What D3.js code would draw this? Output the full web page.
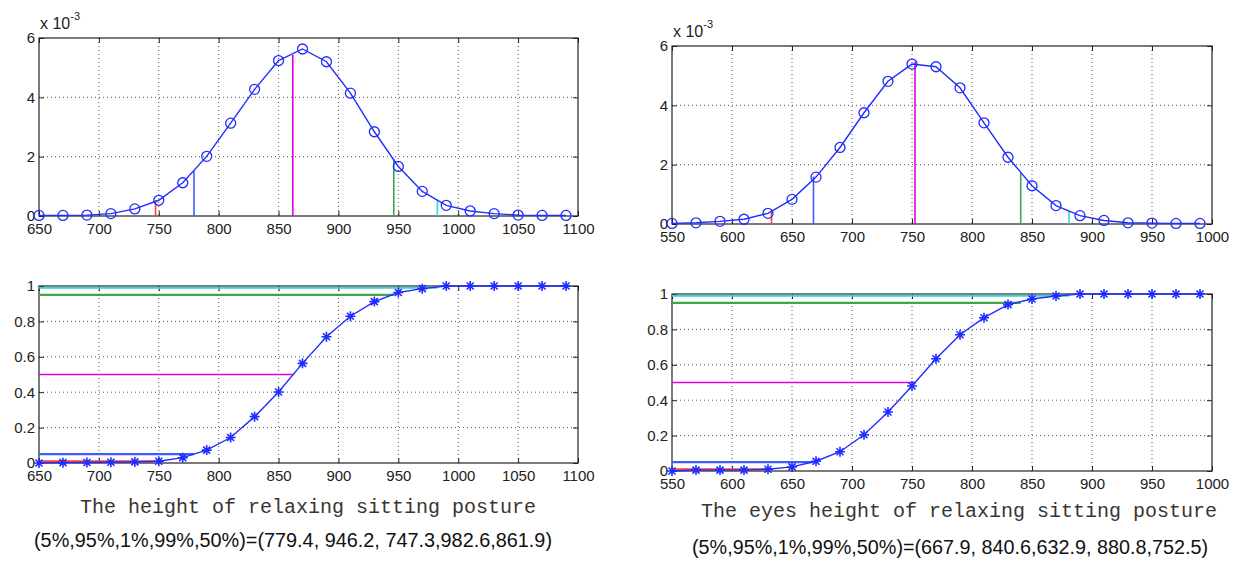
<!DOCTYPE html>
<html>
<head>
<meta charset="utf-8">
<script src="https://cdn.jsdelivr.net/npm/d3@7"></script>
<style>
  body { margin: 0; background: #fff; }
</style>
</head>
<body>
<svg id="chart" width="1247" height="563"></svg>
<script>
// ---- data ----
// left: height of relaxing sitting posture
var leftX = [650, 670, 690, 710, 730, 750, 770, 790, 810, 830, 850, 870, 890, 910, 930, 950, 970, 990, 1010, 1030, 1050, 1070, 1090];
var leftPdf = [0.02, 0.02, 0.03, 0.08, 0.24, 0.53, 1.12, 2.01, 3.13, 4.27, 5.24, 5.63, 5.20, 4.14, 2.84, 1.67, 0.83, 0.36, 0.17, 0.08, 0.03, 0.02, 0.02];
var leftCdf = [0, 0.002, 0.003, 0.004, 0.006, 0.01, 0.03, 0.073, 0.144, 0.262, 0.401, 0.563, 0.713, 0.829, 0.912, 0.963, 0.985, 1, 1, 1, 1, 1, 1];
var leftQuant = [779.4, 946.2, 747.3, 982.6, 861.9];
var leftQuantPdf = [1.52, 1.91, 0.53, 0.53, 5.43];
var leftXTicks = [650, 700, 750, 800, 850, 900, 950, 1000, 1050, 1100];

// right: eyes height of relaxing sitting posture
var rightX = [550, 570, 590, 610, 630, 650, 670, 690, 710, 730, 750, 770, 790, 810, 830, 850, 870, 890, 910, 930, 950, 970, 990];
var rightPdf = [0.02, 0.04, 0.09, 0.16, 0.36, 0.83, 1.58, 2.58, 3.75, 4.81, 5.39, 5.30, 4.59, 3.41, 2.25, 1.29, 0.62, 0.28, 0.12, 0.04, 0.03, 0.02, 0.02];
var rightCdf = [0, 0.005, 0.005, 0.005, 0.01, 0.023, 0.055, 0.109, 0.205, 0.333, 0.48, 0.634, 0.77, 0.866, 0.94, 0.972, 0.989, 1, 1, 1, 1, 1, 1];
var rightQuant = [667.9, 840.6, 632.9, 880.8, 752.5];
var rightQuantPdf = [1.6, 1.73, 0.45, 0.45, 5.47];
var rightXTicks = [550, 600, 650, 700, 750, 800, 850, 900, 950, 1000];

// shared
var quantLevels = [0.05, 0.95, 0.01, 0.99, 0.5];
var quantColors = ["#3d5cff", "#3fa64a", "#ff3b3b", "#3cd0d6", "#e000e0"];
var pdfTicks = [0, 2, 4, 6];
var cdfTicks = [0, 0.2, 0.4, 0.6, 0.8, 1];
var leftTitle = "The height of relaxing sitting posture";
var leftNote = "(5%,95%,1%,99%,50%)=(779.4, 946.2, 747.3,982.6,861.9)";
var rightTitle = "The eyes height of relaxing sitting posture";
var rightNote = "(5%,95%,1%,99%,50%)=(667.9, 840.6,632.9, 880.8,752.5)";

var sans = "Liberation Sans, Arial, sans-serif";
var mono = "Liberation Mono, DejaVu Sans Mono, monospace";

var svg = d3.select("#chart");
var blue = "#1f2dff";

function drawFrame(box, xDomain, yDomain, xTicks, yTicks) {
    var g = svg.append("g");
    var x = d3.scaleLinear().domain(xDomain).range([box.left, box.right]);
    var y = d3.scaleLinear().domain(yDomain).range([box.bottom, box.top]);

    // dotted grid
    g.append("g").selectAll("line").data(xTicks.slice(1, -1)).join("line")
        .attr("x1", d => x(d)).attr("x2", d => x(d))
        .attr("y1", box.top).attr("y2", box.bottom)
        .attr("stroke", "#555").attr("stroke-width", 1).attr("stroke-dasharray", "1,3");
    g.append("g").selectAll("line").data(yTicks.slice(1, -1)).join("line")
        .attr("x1", box.left).attr("x2", box.right)
        .attr("y1", d => y(d)).attr("y2", d => y(d))
        .attr("stroke", "#555").attr("stroke-width", 1).attr("stroke-dasharray", "1,3");

    var xAxis = d3.axisBottom(x).tickValues(xTicks).tickSize(-5).tickSizeOuter(0).tickPadding(7).tickFormat(d => d);
    var yAxis = d3.axisLeft(y).tickValues(yTicks).tickSize(-5).tickSizeOuter(0).tickPadding(4).tickFormat(d => d);

    var gx = g.append("g").attr("transform", "translate(0," + box.bottom + ")").call(xAxis);
    var gy = g.append("g").attr("transform", "translate(" + box.left + ",0)").call(yAxis);
    g.append("g").attr("transform", "translate(0," + box.top + ")")
        .call(d3.axisTop(x).tickValues(xTicks).tickSize(-5).tickSizeOuter(0).tickFormat(""));
    g.append("g").attr("transform", "translate(" + box.right + ",0)")
        .call(d3.axisRight(y).tickValues(yTicks).tickSize(-5).tickSizeOuter(0).tickFormat(""));

    g.selectAll(".domain").remove();
    g.selectAll(".tick line").attr("stroke", "#222");
    [gx, gy].forEach(a => a.selectAll("text")
        .attr("font-size", 15).attr("fill", "#222")
        .attr("font-family", sans));

    g.append("rect")
        .attr("x", box.left).attr("y", box.top)
        .attr("width", box.right - box.left).attr("height", box.bottom - box.top)
        .attr("fill", "none").attr("stroke", "#222").attr("stroke-width", 1.2);

    return { g: g, x: x, y: y };
}

function drawPdf(box, xs, ys, quant, quantY, xTicks) {
    var f = drawFrame(box, [xTicks[0], xTicks[xTicks.length - 1]], [0, 6], xTicks, pdfTicks);
    var pts = xs.map((d, i) => [d, ys[i]]);

    f.g.append("g").selectAll("line").data(quant).join("line")
        .attr("x1", d => f.x(d)).attr("x2", d => f.x(d))
        .attr("y1", f.y(0)).attr("y2", (d, i) => f.y(quantY[i]))
        .attr("stroke", (d, i) => quantColors[i]).attr("stroke-width", 1.6);

    f.g.append("path").datum(pts)
        .attr("d", d3.line().x(d => f.x(d[0])).y(d => f.y(d[1])))
        .attr("fill", "none").attr("stroke", blue).attr("stroke-width", 1.4);

    f.g.append("g").selectAll("circle").data(pts).join("circle")
        .attr("cx", d => f.x(d[0])).attr("cy", d => f.y(d[1])).attr("r", 5)
        .attr("fill", "none").attr("stroke", blue).attr("stroke-width", 1.3);

    // exponent label
    var t = f.g.append("text").attr("x", box.left + 1).attr("y", box.top - 9)
        .attr("font-family", sans).attr("font-size", 16).attr("fill", "#222");
    t.append("tspan").text("x 10");
    t.append("tspan").attr("dy", -9).attr("font-size", 11).text("-3");
}

function drawCdf(box, xs, ys, quant, xTicks) {
    var f = drawFrame(box, [xTicks[0], xTicks[xTicks.length - 1]], [0, 1], xTicks, cdfTicks);
    var pts = xs.map((d, i) => [d, ys[i]]);

    f.g.append("g").selectAll("line").data(quant).join("line")
        .attr("x1", f.x(xTicks[0])).attr("x2", d => f.x(d))
        .attr("y1", (d, i) => f.y(quantLevels[i])).attr("y2", (d, i) => f.y(quantLevels[i]))
        .attr("stroke", (d, i) => quantColors[i])
        .attr("stroke-width", (d, i) => quantLevels[i] === 0.5 ? 1.3 : 2.2);

    f.g.append("path").datum(pts)
        .attr("d", d3.line().x(d => f.x(d[0])).y(d => f.y(d[1])))
        .attr("fill", "none").attr("stroke", blue).attr("stroke-width", 1.4);

    var s = 5;
    f.g.append("g").selectAll("path").data(pts).join("path")
        .attr("transform", d => "translate(" + f.x(d[0]) + "," + f.y(d[1]) + ")")
        .attr("d", "M" + (-s) + ",0H" + s + "M0," + (-s) + "V" + s +
                   "M" + (-s * 0.7) + "," + (-s * 0.7) + "L" + (s * 0.7) + "," + (s * 0.7) +
                   "M" + (-s * 0.7) + "," + (s * 0.7) + "L" + (s * 0.7) + "," + (-s * 0.7))
        .attr("fill", "none").attr("stroke", blue).attr("stroke-width", 1.6);
}

drawPdf({ left: 39, right: 578, top: 38, bottom: 216 }, leftX, leftPdf, leftQuant, leftQuantPdf, leftXTicks);
drawCdf({ left: 39, right: 578, top: 286, bottom: 463 }, leftX, leftCdf, leftQuant, leftXTicks);
drawPdf({ left: 672, right: 1212, top: 46, bottom: 224 }, rightX, rightPdf, rightQuant, rightQuantPdf, rightXTicks);
drawCdf({ left: 672, right: 1212, top: 294, bottom: 471 }, rightX, rightCdf, rightQuant, rightXTicks);

// captions
svg.append("text").attr("x", 308).attr("y", 513).attr("text-anchor", "middle")
    .attr("font-family", mono).attr("font-size", 20).attr("fill", "#3a3530")
    .text(leftTitle);
svg.append("text").attr("x", 293).attr("y", 547).attr("text-anchor", "middle")
    .attr("font-family", sans).attr("font-size", 20).attr("fill", "#111")
    .attr("textLength", 518).attr("lengthAdjust", "spacingAndGlyphs")
    .text(leftNote);
svg.append("text").attr("x", 959).attr("y", 517).attr("text-anchor", "middle")
    .attr("font-family", mono).attr("font-size", 20).attr("fill", "#3a3530")
    .text(rightTitle);
svg.append("text").attr("x", 950).attr("y", 554).attr("text-anchor", "middle")
    .attr("font-family", sans).attr("font-size", 20).attr("fill", "#111")
    .attr("textLength", 516).attr("lengthAdjust", "spacingAndGlyphs")
    .text(rightNote);
</script>
</body>
</html>
